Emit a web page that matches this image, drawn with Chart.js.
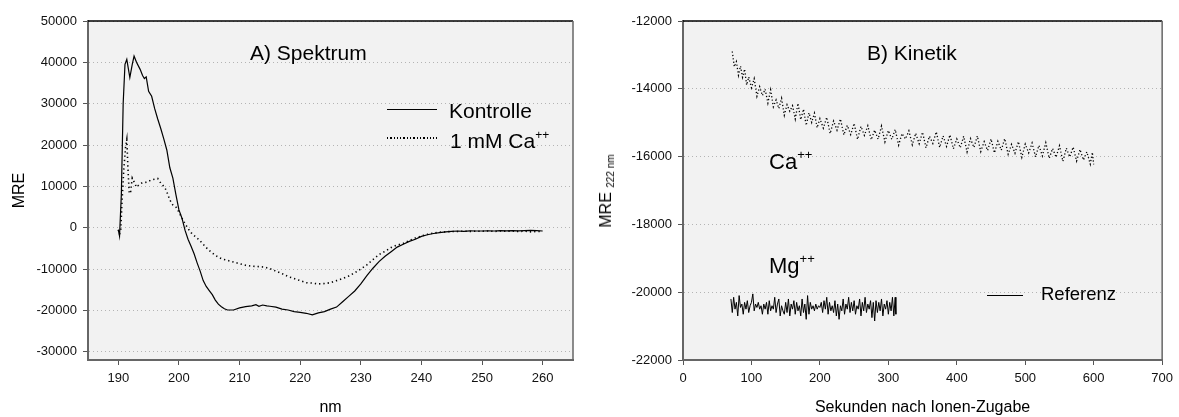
<!DOCTYPE html>
<html><head><meta charset="utf-8">
<script src="https://cdn.jsdelivr.net/npm/chart.js@4"></script>
<style>
html,body{margin:0;padding:0;background:#fff;}
body{width:1179px;height:417px;position:relative;overflow:hidden;font-family:'Liberation Sans',Arial,sans-serif;color:#000;}
canvas{position:absolute;top:0;}
.t{position:absolute;white-space:nowrap;line-height:1;}
.t sup{line-height:0;}
.ln{position:absolute;height:0;border-top:1.2px solid #000;}
.dl{position:absolute;height:1.5px;background:repeating-linear-gradient(to right,#000 0 1.3px,transparent 1.3px 3.3px);}
.ylab{position:absolute;transform:translate(-50%,-50%) rotate(-90deg);font-size:16px;line-height:16px;white-space:nowrap;}
</style></head>
<body>
<canvas id="cA" width="590" height="417" style="left:0"></canvas>
<canvas id="cB" width="589" height="417" style="left:590px"></canvas>

<div class="t" style="left:250px;top:41.5px;font-size:21px">A) Spektrum</div>
<div class="ln" style="left:387px;top:108.5px;width:50px"></div>
<div class="t" style="left:449px;top:99.5px;font-size:21px">Kontrolle</div>
<div class="dl" style="left:387px;top:137px;width:50px"></div>
<div class="t" style="left:450px;top:130px;font-size:21px">1 mM Ca<sup style="font-size:12px;vertical-align:9.5px">++</sup></div>

<div class="t" style="left:867px;top:41.5px;font-size:21px">B) Kinetik</div>
<div class="t" style="left:769px;top:151.4px;font-size:22px">Ca<sup style="font-size:13px;vertical-align:10px">++</sup></div>
<div class="t" style="left:769px;top:254.7px;font-size:22px">Mg<sup style="font-size:13px;vertical-align:10px">++</sup></div>
<div class="ln" style="left:987px;top:294.5px;width:36px"></div>
<div class="t" style="left:1041px;top:285.3px;font-size:18.5px">Referenz</div>
<div class="ylab" style="left:605.5px;top:191px">MRE <span style="font-size:10px;vertical-align:-3px;line-height:0">222 nm</span></div>

<script>
// ---------- Data: A) Spektrum ----------
const nmKontrolle = [190,190.2,190.5,190.8,191.1,191.4,191.9,192.3,192.6,193,193.6,194,194.3,194.6,195,195.5,196,196.5,197,197.5,198,198.5,199,199.5,200,200.5,201,201.5,202,202.5,203,203.5,204,204.5,205,205.5,206,206.5,207,207.5,208,209,210,211,212,212.7,213.2,213.8,214.5,215,216,217,218,219,220,221,222,223,224,225,226,227,228,229,230,231,232,233,234,235,236,237,238,239,240,241,242,243,244,245,246,247,248,249,250,251,252,253,254,255,256,257,258,259,260];
const kontrolle = [-500,-2000,8000,30000,39500,40700,36300,39500,41500,40000,38300,36800,36100,36500,33000,31800,28800,26300,24000,21500,18800,14500,12000,8000,4300,2300,-600,-2800,-4500,-6300,-8500,-10500,-12800,-14200,-15200,-16200,-17500,-18500,-19100,-19600,-19900,-19900,-19400,-19100,-18900,-18600,-19000,-18700,-18900,-19000,-19200,-19700,-19900,-20300,-20500,-20700,-21100,-20600,-20300,-19700,-19200,-17900,-16600,-15300,-13600,-11600,-9800,-8200,-6900,-5800,-4700,-4000,-3300,-2800,-2100,-1700,-1400,-1200,-1000,-900,-800,-900,-750,-800,-800,-750,-800,-700,-750,-700,-750,-700,-650,-700,-800];

const nmCalcium = [190,190.2,190.4,190.6,190.9,191.2,191.4,191.6,191.8,192,192.3,192.6,193,193.5,194,194.7,195.5,196.5,197,197.5,197.9,198.5,199,199.5,200,200.5,201,201.5,202,202.5,203,203.5,204,204.5,205,206,207,208,209,210,211,212,213,214,215,216,217,218,219,220,221,222,223,224,225,226,227,228,229,230,231,232,233,234,235,236,237,238,239,240,241,242,243,244,245,246,247,248,249,250,251,252,253,254,255,256,257,258,259,260];
const calcium = [-500,-1500,-500,6000,14000,19500,21300,14000,8500,8300,12000,11100,9800,10500,10900,11000,11600,11900,10800,10000,9100,6700,5500,5000,3800,2300,1000,-200,-1200,-1900,-2500,-3200,-4000,-4800,-5500,-6700,-7500,-7900,-8300,-8700,-9100,-9300,-9400,-9500,-9900,-10500,-11100,-11800,-12300,-12800,-13300,-13400,-13600,-13500,-13300,-12800,-12300,-11700,-10900,-10000,-9000,-7700,-6500,-5700,-4800,-4200,-3800,-3100,-2500,-2000,-1600,-1300,-1100,-1000,-900,-900,-850,-900,-850,-850,-800,-900,-800,-850,-800,-900,-850,-1000,-900,-950];

const xTicksA = [190,200,210,220,230,240,250,260];
const yTicksA = [-30000,-20000,-10000,0,10000,20000,30000,40000,50000];

// ---------- Data: B) Kinetik ----------
const tCa = [72,75,78,81,84,87,90,93,96,100,104,108,112,116,120,124,128,132,136,140,144,148,152,156,160,164,168,172,176,180,184,188,192,196,200,205,210,215,220,225,230,235,240,245,250,255,260,265,270,275,280,285,290,295,300,305,310,315,320,325,330,335,340,345,350,355,360,365,370,375,380,385,390,395,400,405,410,415,420,425,430,435,440,445,450,455,460,465,470,475,480,485,490,495,500,505,510,515,520,525,530,535,540,545,550,555,560,565,570,575,580,585,590,595,598,600];
const caKinetik = [-12900,-13350,-13200,-13600,-13330,-13660,-13420,-13890,-13650,-13970,-13700,-14220,-13940,-14200,-14010,-14420,-14030,-14530,-14330,-14580,-14280,-14780,-14470,-14660,-14500,-14890,-14430,-14910,-14600,-15080,-14710,-14990,-14720,-15150,-14880,-15160,-14840,-15320,-14950,-15220,-14890,-15360,-15080,-15350,-15020,-15490,-15110,-15375,-15090,-15505,-15220,-15485,-15100,-15565,-15230,-15490,-15200,-15660,-15320,-15480,-15240,-15650,-15310,-15620,-15280,-15740,-15400,-15610,-15270,-15730,-15390,-15700,-15360,-15770,-15480,-15740,-15400,-15860,-15470,-15730,-15390,-15850,-15560,-15820,-15480,-15890,-15550,-15810,-15470,-15930,-15640,-15900,-15560,-16020,-15630,-15890,-15600,-16010,-15670,-15980,-15590,-16050,-15760,-16020,-15680,-16140,-15750,-16010,-15720,-16130,-15790,-16100,-15860,-16220,-15875,-16230];

const tMg = [70,72,74,76,78,80,82,84,86,88,90,92,94,96,98,100,102,104,106,108,110,112,114,116,118,120,122,124,126,128,130,132,134,136,138,140,142,144,146,148,150,152,154,156,158,160,162,164,166,168,170,172,174,176,178,180,182,184,186,188,190,192,194,196,198,200,202,204,206,208,210,212,214,216,218,220,222,224,226,228,230,232,234,236,238,240,242,244,246,248,250,252,254,256,258,260,262,264,266,268,270,272,274,276,278,280,282,284,286,288,290,292,294,296,298,300,302,304,306,308,310,311];
const mgReferenz = [-20200,-20600,-20150,-20500,-20300,-20700,-20100,-20450,-20350,-20650,-20300,-20500,-20250,-20600,-20400,-20300,-20050,-20550,-20350,-20450,-20300,-20500,-20400,-20650,-20350,-20500,-20300,-20650,-20250,-20550,-20400,-20500,-20150,-20600,-20350,-20200,-20700,-20400,-20550,-20650,-20300,-20600,-20200,-20700,-20350,-20500,-20250,-20650,-20300,-20550,-20400,-20700,-20200,-20600,-20350,-20800,-20100,-20650,-20300,-20500,-20400,-20550,-20350,-20500,-20400,-20450,-20300,-20600,-20250,-20500,-20150,-20650,-20300,-20550,-20400,-20600,-20250,-20700,-20350,-20800,-20400,-20550,-20200,-20650,-20350,-20500,-20150,-20600,-20300,-20550,-20250,-20650,-20400,-20500,-20200,-20700,-20300,-20550,-20150,-20600,-20350,-20500,-20250,-20750,-20300,-20850,-20250,-20600,-20300,-20550,-20200,-20700,-20350,-20500,-20250,-20650,-20300,-20550,-20150,-20700,-20150,-20650];

const xTicksB = [0,100,200,300,400,500,600,700];
const yTicksB = [-22000,-20000,-18000,-16000,-14000,-12000];

// ---------- helpers ----------
const pts = (xs, ys) => xs.map((x, i) => ({x: x, y: ys[i]}));
const FAM = "'Liberation Sans', Arial, sans-serif";
const tickFont = {family: FAM, size: 13};
const setTicks = arr => s => { s.ticks = arr.map(v => ({value: v})); };

const frame = {
  id: 'frame',
  beforeDraw(c) {
    const {ctx, chartArea: a} = c;
    ctx.save(); ctx.fillStyle = '#f2f2f2';
    ctx.fillRect(a.left, a.top, a.right - a.left, a.bottom - a.top);
    ctx.restore();
  },
  afterDraw(c) {
    const {ctx, chartArea: a} = c;
    ctx.save();
    ctx.strokeStyle = '#000'; ctx.lineWidth = 1.5;
    ctx.beginPath(); ctx.moveTo(a.left, a.top); ctx.lineTo(a.right, a.top); ctx.stroke();
    ctx.strokeStyle = '#666'; ctx.lineWidth = 1.5;
    ctx.beginPath(); ctx.moveTo(a.right, a.top); ctx.lineTo(a.right, a.bottom + 1); ctx.stroke();
    ctx.restore();
  }
};

function xScale(min, max, ticks, title) {
  return {
    type: 'linear', min: min, max: max,
    afterBuildTicks: setTicks(ticks),
    afterFit: s => { s.height = 57; },
    grid: {display: true, drawOnChartArea: false, drawTicks: true, tickLength: 5, tickColor: '#555', color: '#555'},
    border: {display: true, color: '#666', width: 2},
    ticks: {color: '#111', font: tickFont, padding: 6, maxRotation: 0, autoSkip: false, callback: v => String(v)},
    title: {display: true, text: title, color: '#000', font: {family: FAM, size: 16}, padding: {top: 0, bottom: 0}}
  };
}
function yScale(min, max, ticks, width, title) {
  return {
    type: 'linear', min: min, max: max,
    afterBuildTicks: setTicks(ticks),
    afterFit: s => { s.width = width; },
    grid: {display: true, drawOnChartArea: true, drawTicks: true, tickLength: 5, tickColor: '#555', color: '#b4b4b4', lineWidth: 1},
    border: {display: true, color: '#666', width: 2, dash: [1, 3]},
    ticks: {color: '#111', font: tickFont, padding: 6, autoSkip: false, callback: v => String(v)},
    title: {display: !!title, text: title || '', color: '#000', font: {family: FAM, size: 16}, padding: {top: 10, bottom: 0}}
  };
}

new Chart(document.getElementById('cA'), {
  type: 'line',
  data: {datasets: [
    {label: 'Kontrolle', data: pts(nmKontrolle, kontrolle), borderColor: '#000', borderWidth: 1.2, pointRadius: 0, fill: false, tension: 0},
    {label: '1 mM Ca++', data: pts(nmCalcium, calcium), borderColor: '#000', borderWidth: 1.6, borderDash: [1.3, 3], pointRadius: 0, fill: false, tension: 0}
  ]},
  options: {
    responsive: false, animation: false, devicePixelRatio: 1,
    layout: {padding: {left: 0, top: 21, right: 17, bottom: 0}},
    plugins: {legend: {display: false}, tooltip: {enabled: false}},
    scales: {
      x: xScale(185, 265, xTicksA, 'nm'),
      y: yScale(-32000, 50000, yTicksA, 88, 'MRE')
    }
  },
  plugins: [frame]
});

new Chart(document.getElementById('cB'), {
  type: 'line',
  data: {datasets: [
    {label: 'Ca++', data: pts(tCa, caKinetik), borderColor: '#000', borderWidth: 1.3, borderDash: [1.2, 2.2], pointRadius: 0, fill: false, tension: 0},
    {label: 'Referenz', data: pts(tMg, mgReferenz), borderColor: '#000', borderWidth: 1, pointRadius: 0, fill: false, tension: 0}
  ]},
  options: {
    responsive: false, animation: false, devicePixelRatio: 1,
    layout: {padding: {left: 0, top: 21, right: 12, bottom: 0}},
    plugins: {legend: {display: false}, tooltip: {enabled: false}},
    scales: {
      x: xScale(0, 700, xTicksB, 'Sekunden nach Ionen-Zugabe'),
      y: yScale(-22000, -12000, yTicksB, 93, '')
    }
  },
  plugins: [frame]
});
</script>
</body></html>
